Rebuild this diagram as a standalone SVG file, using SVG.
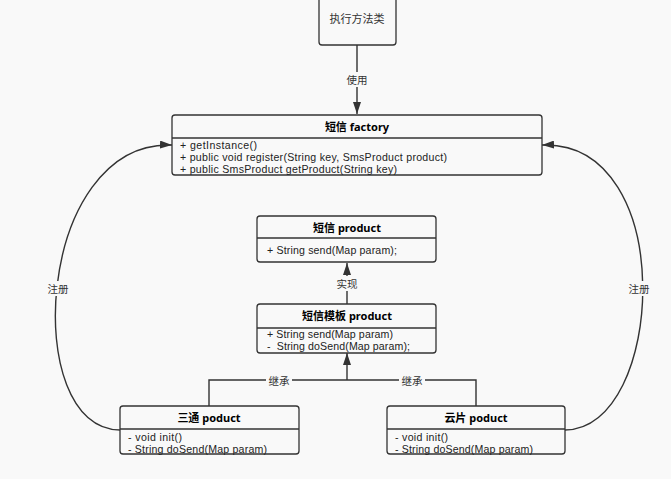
<svg xmlns="http://www.w3.org/2000/svg" width="671" height="479" viewBox="0 0 671 479">
<defs>
<marker id="arr" viewBox="0 0 12 8" refX="12" refY="4" markerWidth="12" markerHeight="8" markerUnits="userSpaceOnUse" orient="auto">
<path d="M0,0 L12,4 L0,8 Z" fill="#333"/>
</marker>
<style>
.box{fill:#f9f9f9;stroke:#333;stroke-width:1.3}
.div{stroke:#333;stroke-width:1.3}
.t{font-family:"Liberation Sans","Noto Sans CJK SC",sans-serif;font-size:10.6px;fill:#222}
.b{font-family:"Noto Sans","Noto Sans CJK SC",sans-serif;font-weight:bold;text-anchor:middle;font-size:11px}
.lbl{font-family:"Noto Sans CJK SC",sans-serif;font-size:10.5px;fill:#333;text-anchor:middle}
.lbg{fill:#f9f9f9}
.e{fill:none;stroke:#333;stroke-width:1.4}
</style>
</defs>
<rect width="671" height="479" fill="#f9f9f9"/>
<g id="connectors">
<path class="e" d="M357,45 L357,114" marker-end="url(#arr)"/>
<rect class="lbg" x="344" y="72" width="26" height="15"/>
<text class="lbl" x="357" y="84">使用</text>
<path class="e" d="M347,304 L347,263" marker-end="url(#arr)"/>
<rect class="lbg" x="334" y="276" width="26" height="15"/>
<text class="lbl" x="347" y="288">实现</text>
<path class="e" d="M209,406 L209,380 L476,380 L476,406"/>
<path class="e" d="M347,380 L347,353" marker-end="url(#arr)"/>
<rect class="lbg" x="266" y="373" width="26" height="15"/>
<text class="lbl" x="279" y="385">继承</text>
<rect class="lbg" x="399" y="373" width="26" height="15"/>
<text class="lbl" x="412" y="385">继承</text>
<path class="e" d="M120,430 C20,430 35,140 172,145" marker-end="url(#arr)"/>
<rect class="lbg" x="45" y="281" width="26" height="15"/>
<text class="lbl" x="58" y="293">注册</text>
<path class="e" d="M565,430 C665,430 680,140 542,145" marker-end="url(#arr)"/>
<rect class="lbg" x="626" y="281" width="26" height="15"/>
<text class="lbl" x="639" y="293">注册</text>
</g>
<g id="client">
<rect class="box" x="319" y="-10" width="77" height="55" rx="3"/>
<text class="lbl" x="357" y="23" style="font-size:11px">执行方法类</text>
</g>
<g id="factory">
<rect class="box" x="172" y="115" width="370" height="60" rx="3"/>
<line class="div" x1="172" y1="138" x2="542" y2="138"/>
<text class="b" x="357" y="131">短信 factory</text>
<text class="t" x="180" y="149" textLength="77">+ getInstance()</text>
<text class="t" x="180" y="161" textLength="267">+ public void register(String key, SmsProduct product)</text>
<text class="t" x="180" y="173" textLength="217">+ public SmsProduct getProduct(String key)</text>
</g>
<g id="product">
<rect class="box" x="257" y="216" width="179" height="46" rx="3"/>
<line class="div" x1="257" y1="238" x2="436" y2="238"/>
<text class="b" x="347" y="232">短信 product</text>
<text class="t" x="267" y="254" textLength="130">+ String send(Map param);</text>
</g>
<g id="template">
<rect class="box" x="257" y="304" width="179" height="49" rx="3"/>
<line class="div" x1="257" y1="328" x2="436" y2="328"/>
<text class="b" x="347" y="320">短信模板 product</text>
<text class="t" x="267" y="338" textLength="126">+ String send(Map param)</text>
<text class="t" x="267" y="350" textLength="143">-&#160;&#160;String doSend(Map param);</text>
</g>
<g id="santong">
<rect class="box" x="120" y="406" width="179" height="48" rx="3"/>
<line class="div" x1="120" y1="429" x2="299" y2="429"/>
<text class="b" x="209" y="422">三通 poduct</text>
<text class="t" x="128" y="441" textLength="54">- void init()</text>
<text class="t" x="128" y="453" textLength="139">- String doSend(Map param)</text>
</g>
<g id="yunpian">
<rect class="box" x="387" y="406" width="178" height="48" rx="3"/>
<line class="div" x1="387" y1="429" x2="565" y2="429"/>
<text class="b" x="476" y="422">云片 poduct</text>
<text class="t" x="395" y="441" textLength="53">- void init()</text>
<text class="t" x="395" y="453" textLength="138">- String doSend(Map param)</text>
</g>
</svg>
